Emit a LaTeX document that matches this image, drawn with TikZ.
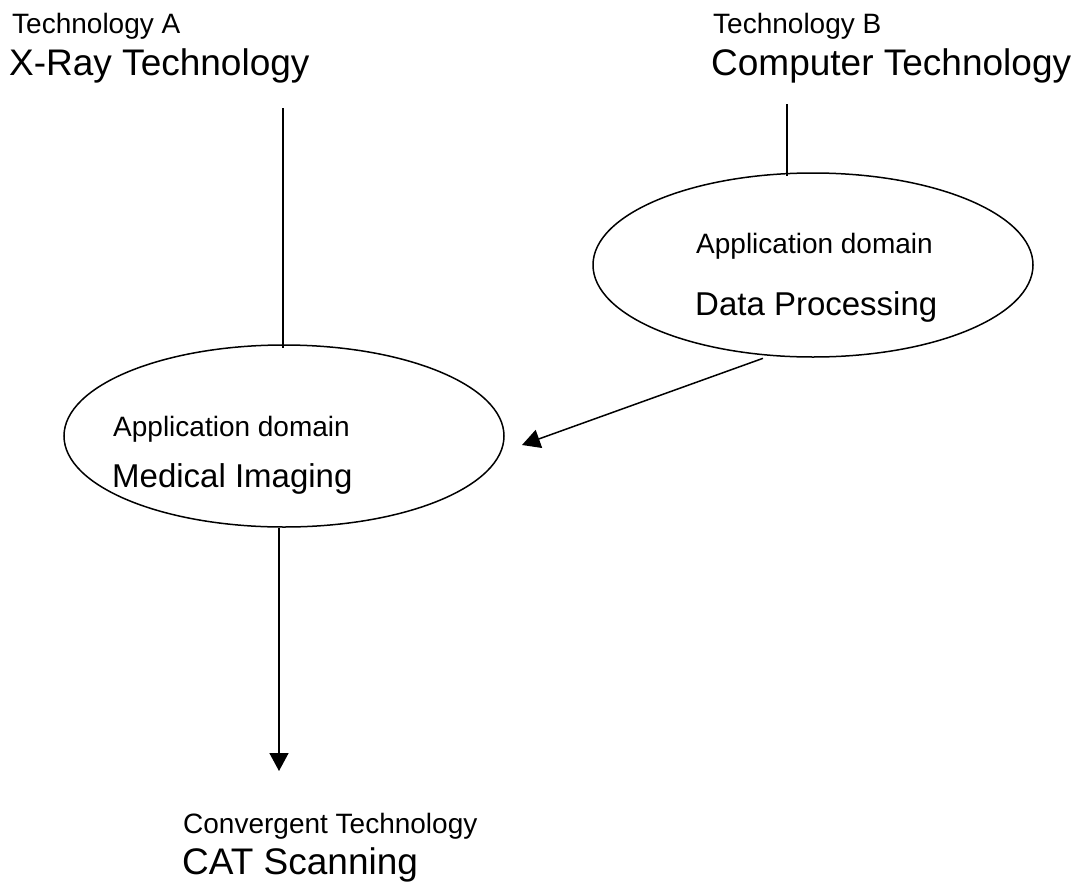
\documentclass[tikz,border=0pt]{standalone}
\usepackage{fontspec}
\setmainfont{Liberation Sans}
\usetikzlibrary{shapes.geometric,arrows.meta}

\begin{document}
\begin{tikzpicture}[x=1pt,y=-1pt,
    small/.style={anchor=base west,inner sep=0,font=\fontsize{28}{32}\selectfont},
    mid/.style={anchor=base west,inner sep=0,font=\fontsize{33}{38}\selectfont},
    big/.style={anchor=base west,inner sep=0,font=\fontsize{37}{42}\selectfont},
    appellipse/.style={draw,ellipse,line width=1.5pt,inner sep=0},
    link/.style={line width=1.5pt},
    arr/.style={link,-{Triangle[length=18pt,width=19pt]}}]
      \useasboundingbox (0,0) rectangle (1089,889);

      % Technology A and B
      \node[small] (techA) at (12,33) {Technology A};
      \node[big] (xray) at (9,75) {X-Ray Technology};
      \node[small] (techB) at (713,33) {Technology B};
      \node[big] (comp) at (711,75) {Computer Technology};

      % Application domains
      \node[appellipse, minimum width=440pt, minimum height=182pt] (medical) at (284,436) {};
      \node[small] (appA) at (113,436) {Application domain};
      \node[mid] (medimg) at (112,487) {Medical Imaging};
      \node[appellipse, minimum width=440pt, minimum height=184pt] (data) at (813,265) {};
      \node[small] (appB) at (696,253) {Application domain};
      \node[mid] (dataproc) at (695,315) {Data Processing};

      % Convergent technology
      \node[small] (conv) at (183,833) {Convergent Technology};
      \node[big] (cat) at (182,874) {CAT Scanning};

      % Lines and arrows
      \coordinate (topA) at (283,108);
      \coordinate (topB) at (787,104);
      \coordinate (catin) at (279,771);
      \coordinate (medin) at (522,445);
      \draw[link] (topA) -- ([yshift=-4pt]topA |- medical.north);
      \draw[link] (topB) -- ([yshift=-4pt]topB |- data.north);
      \draw[arr] (catin |- medical.south) -- (catin);
      \draw[arr] ([yshift=-3pt]data.241) -- (medin);
    \end{tikzpicture}
\end{document}
